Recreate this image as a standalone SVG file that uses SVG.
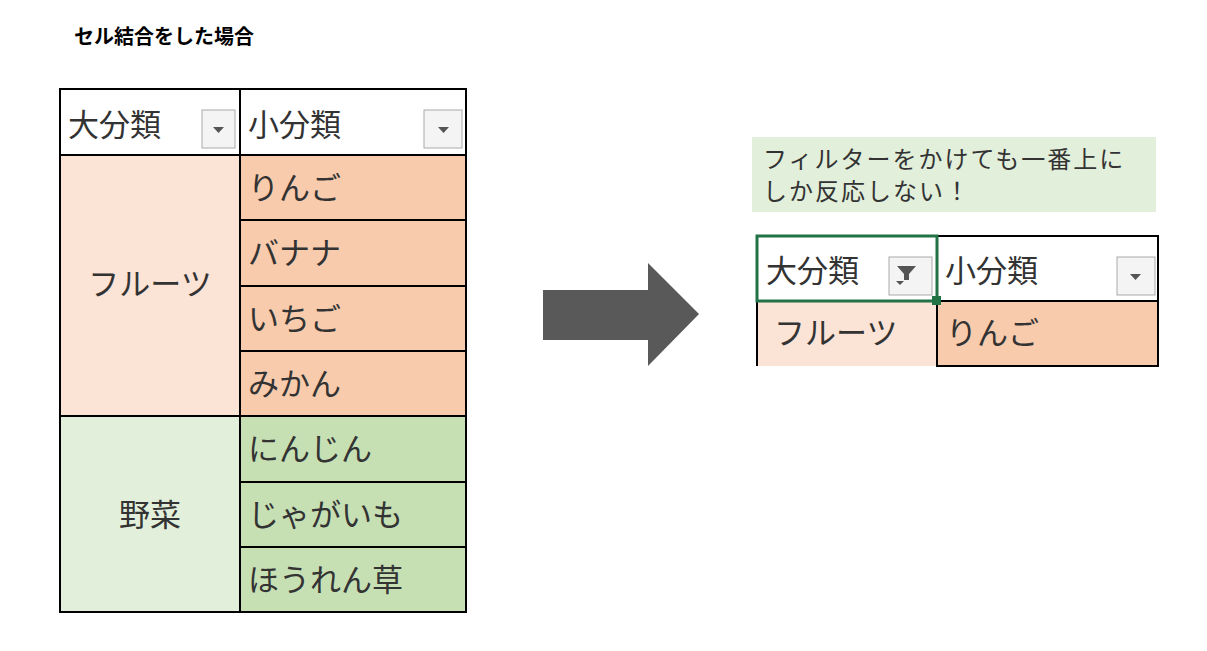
<svg xmlns="http://www.w3.org/2000/svg" width="1207" height="651" viewBox="0 0 1207 651">
<style>
text{font-family:"Noto Sans CJK JP",sans-serif;fill:#333}
.c{font-size:31px}
.ln{stroke:#000;stroke-width:2;fill:none}
.btn{fill:#f4f4f4;stroke:#aaa;stroke-width:1}
.tri{fill:#555}
</style>
<rect width="1207" height="651" fill="#fff"/>
<text x="74" y="44" font-size="20" font-weight="bold" style="fill:#000">セル結合をした場合</text>
<g id="left-table">
<rect x="60" y="89" width="406" height="66" fill="#fff"/>
<rect x="60" y="155" width="180" height="261" fill="#fbe3d6"/>
<rect x="240" y="155" width="226" height="261" fill="#f8cbad"/>
<rect x="60" y="416" width="180" height="196" fill="#e2efda"/>
<rect x="240" y="416" width="226" height="196" fill="#c6e0b4"/>
<path class="ln" d="M60 89H466V612H60Z M240 89V612 M60 155H466 M240 220H466 M240 286H466 M240 351H466 M60 416H466 M240 482H466 M240 547H466"/>
<rect class="btn" x="202" y="110" width="33" height="38"/><path class="tri" d="M213 127h11l-5.5 6z"/>
<rect class="btn" x="424" y="110" width="38" height="38"/><path class="tri" d="M438 127h11l-5.5 6z"/>
<text class="c" x="68" y="136">大分類</text>
<text class="c" x="248" y="136">小分類</text>
<text class="c" x="248" y="199">りんご</text>
<text class="c" x="248" y="264">バナナ</text>
<text class="c" x="248" y="330">いちご</text>
<text class="c" x="248" y="395">みかん</text>
<text class="c" x="248" y="460">にんじん</text>
<text class="c" x="248" y="526">じゃがいも</text>
<text class="c" x="248" y="591">ほうれん草</text>
<text class="c" x="150" y="295" text-anchor="middle">フルーツ</text>
<text class="c" x="150" y="526" text-anchor="middle">野菜</text>
</g>
<g id="arrow"><path d="M543 290H648V263L699 314L648 366V340H543Z" fill="#595959"/></g>
<g id="note">
<rect x="752" y="137" width="404" height="75" fill="#e2efda"/>
<text x="763" y="168" font-size="24" letter-spacing="2">フィルターをかけても一番上に</text>
<text x="763" y="200" font-size="24" letter-spacing="2">しか反応しない！</text>
</g>
<g id="right-table">
<rect x="757" y="301" width="180" height="65" fill="#fbe3d6"/>
<rect x="937" y="301" width="221" height="65" fill="#f8cbad"/>
<path class="ln" d="M937 236H1158V301 M937 301H1158V366H937V301 M757 301V366"/>
<rect class="btn" x="889" y="257" width="43" height="38"/><path class="tri" d="M897 266h19l-7 8v6h-5v-6z"/><path class="tri" d="M896 281h8l-4 4z"/>
<rect class="btn" x="1117" y="257" width="38" height="38"/><path class="tri" d="M1130 274h11l-5.5 6z"/>
<rect x="757" y="236" width="180" height="65" fill="none" stroke="#217346" stroke-width="3"/>
<rect x="932" y="296" width="9" height="9" fill="#217346"/>
<text class="c" x="766" y="282">大分類</text>
<text class="c" x="945" y="282">小分類</text>
<text class="c" x="774" y="344">フルーツ</text>
<text class="c" x="946" y="344">りんご</text>
</g>
</svg>
